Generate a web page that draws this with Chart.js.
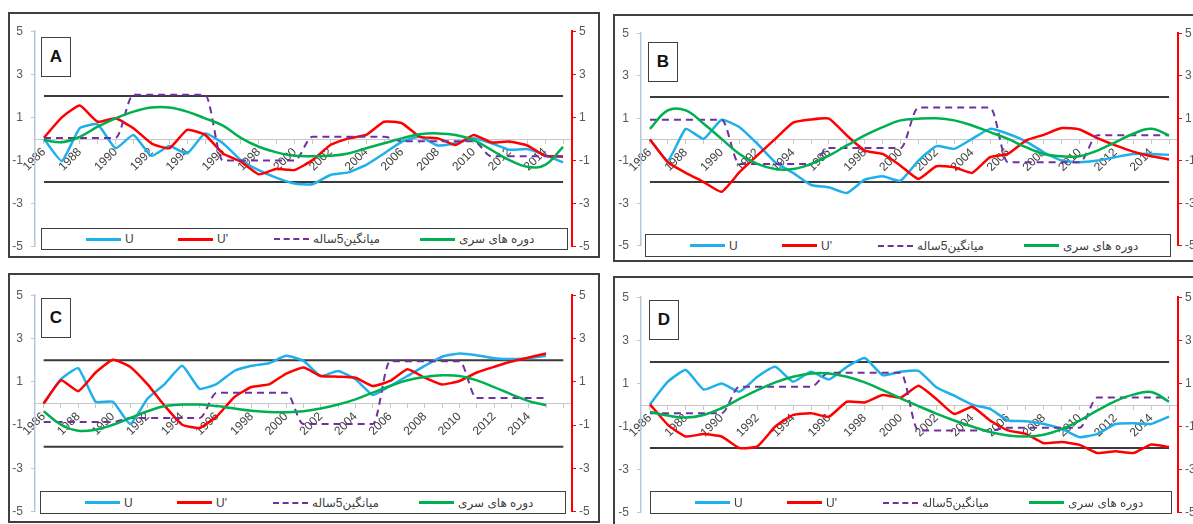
<!DOCTYPE html>
<html>
<head>
<meta charset="utf-8">
<script src="https://cdn.jsdelivr.net/npm/chart.js@4.4.1/dist/chart.umd.min.js"></script>
<style>
  body { margin: 0; width: 1193px; height: 524px; overflow: hidden; background: #fff; position: relative;
         font-family: "Liberation Sans", "DejaVu Sans", sans-serif; }
  .panel { position: absolute; border: 2px solid #404040; box-sizing: border-box; }
  canvas { position: absolute; }
  .tag { position: absolute; width: 30px; height: 40px; border: 1.5px solid #404040; box-sizing: border-box;
         background: #fff; font-weight: bold; font-size: 17px; text-align: center; line-height: 37px; color: #111; }
  .legend { position: absolute; border: 1.5px solid #404040; box-sizing: border-box; background: #fff; }
  .item { position: absolute; top: 0; bottom: 0; display: flex; align-items: center; font-size: 12px;
          color: #404040; white-space: nowrap; }
  .swatch { width: 35px; height: 0; border-top: 3px solid; margin-right: 4px; }
</style>
</head>
<body>

<div class="panel" style="left:8px;top:12px;width:592px;height:246px"></div>
<div class="panel" style="left:613px;top:14px;width:590px;height:248px"></div>
<div class="panel" style="left:8px;top:273px;width:592px;height:250px"></div>
<div class="panel" style="left:613px;top:276px;width:590px;height:250px"></div>

<canvas id="chartA" width="591" height="246" style="left:7px;top:16px"></canvas>
<canvas id="chartB" width="591" height="243" style="left:613px;top:18px"></canvas>
<canvas id="chartC" width="591" height="247" style="left:7px;top:280px"></canvas>
<canvas id="chartD" width="591" height="246" style="left:613px;top:282px"></canvas>

<div class="tag" style="left:41px;top:37px">A</div>
<div class="tag" style="left:648px;top:42px">B</div>
<div class="tag" style="left:41px;top:298px">C</div>
<div class="tag" style="left:649px;top:300px">D</div>

<div class="legend" id="legA" style="left:41px;top:228px;width:527px;height:22px"></div>
<div class="legend" id="legB" style="left:645px;top:234px;width:526px;height:23px"></div>
<div class="legend" id="legC" style="left:40px;top:491px;width:526px;height:23px"></div>
<div class="legend" id="legD" style="left:650px;top:491px;width:522px;height:23px"></div>

<script>
// years on the category axis
const years = ['1986', '1987', '1988', '1989', '1990', '1991', '1992', '1993', '1994', '1995',
  '1996', '1997', '1998', '1999', '2000', '2001', '2002', '2003', '2004', '2005',
  '2006', '2007', '2008', '2009', '2010', '2011', '2012', '2013', '2014', '2015'];
// panel C has one empty category at the end
const yearsC = ['1986', '1987', '1988', '1989', '1990', '1991', '1992', '1993', '1994', '1995',
  '1996', '1997', '1998', '1999', '2000', '2001', '2002', '2003', '2004', '2005',
  '2006', '2007', '2008', '2009', '2010', '2011', '2012', '2013', '2014', '2015', ''];
const yTicks = [-5, -3, -1, 1, 3, 5];

const seriesNames = ['U', "U'", 'میانگین5ساله', 'دوره های سری'];
const seriesColors = ['#1fb0ec', '#ff0000', '#7030a0', '#00b050'];

// +2 / -2 reference lines
const upper30 = [2, 2, 2, 2, 2, 2, 2, 2, 2, 2, 2, 2, 2, 2, 2, 2, 2, 2, 2, 2, 2, 2, 2, 2, 2, 2, 2, 2, 2, 2];
const lower30 = [-2, -2, -2, -2, -2, -2, -2, -2, -2, -2, -2, -2, -2, -2, -2, -2, -2, -2, -2, -2, -2, -2, -2, -2, -2, -2, -2, -2, -2, -2];
const upper31 = [2, 2, 2, 2, 2, 2, 2, 2, 2, 2, 2, 2, 2, 2, 2, 2, 2, 2, 2, 2, 2, 2, 2, 2, 2, 2, 2, 2, 2, 2, 2];
const lower31 = [-2, -2, -2, -2, -2, -2, -2, -2, -2, -2, -2, -2, -2, -2, -2, -2, -2, -2, -2, -2, -2, -2, -2, -2, -2, -2, -2, -2, -2, -2, -2];

// Panel A
const aU = [0, -1.02, 0.5, 0.68, -0.43, 0.19, -0.78, -0.33, -0.67, 0.26, -0.2, -0.98, -1.44, -1.8, -2.06,
  -2.1, -1.67, -1.55, -1.2, -0.67, -0.12, 0.1, -0.3, -0.2, 0.03, -0.2, -0.5, -0.47, -0.75, -1.08];
const aU2 = [0.06, 1.0, 1.55, 0.8, 0.96, 0.5, -0.2, -0.43, 0.42, 0.19, -0.67, -1.05, -1.64, -1.38, -1.44,
  -0.98, -0.28, 0.03, 0.19, 0.8, 0.73, 0.1, 0.03, -0.28, 0.19, -0.16, -0.12, -0.3, -0.78, -0.82];
const aMean = [0.05, 0.05, 0.05, 0.05, 0.05, 2.05, 2.05, 2.05, 2.05, 2.05, -1.0, -1.0, -1.0, -1.0, -1.0,
  0.1, 0.1, 0.1, 0.1, 0.1, -0.1, -0.1, -0.1, -0.1, -0.1, -0.8, -0.8, -0.8, -0.8, -0.8];
const aCycle = [-0.05, -0.15, 0.1, 0.57, 0.96, 1.27, 1.46, 1.46, 1.27, 0.96, 0.62, 0.05, -0.36, -0.62, -0.78,
  -0.8, -0.78, -0.67, -0.43, -0.2, 0.03, 0.22, 0.26, 0.19, -0.05, -0.51, -0.98, -1.29, -1.2, -0.36];

// Panel B
const bU = [0, -0.99, 0.5, 0.03, 0.93, 0.58, -0.2, -1.07, -1.57, -2.14, -2.25, -2.52, -1.89, -1.73, -1.94,
  -0.99, -0.31, -0.44, 0.03, 0.5, 0.27, -0.09, -0.6, -0.99, -1.07, -0.99, -0.83, -0.68, -0.68, -0.72];
const bU2 = [0, -1.07, -1.57, -2.0, -2.46, -1.54, -0.75, 0.03, 0.79, 0.94, 0.98, 0.19, -0.52, -0.68, -1.23,
  -1.86, -1.26, -1.31, -1.57, -0.83, -0.68, -0.05, 0.22, 0.54, 0.47, 0.06, -0.28, -0.57, -0.79, -0.94];
const bMean = [0.93, 0.93, 0.93, 0.93, 0.93, -1.15, -1.15, -1.15, -1.15, -1.15, -0.4, -0.4, -0.4, -0.4, -0.4,
  1.5, 1.5, 1.5, 1.5, 1.5, -1.07, -1.07, -1.07, -1.07, -1.07, 0.2, 0.2, 0.2, 0.2, 0.2];
const bCycle = [0.5, 1.37, 1.37, 0.74, 0.03, -0.68, -1.15, -1.39, -1.39, -1.15, -0.76, -0.28, 0.19, 0.58, 0.9,
  0.98, 1.0, 0.9, 0.66, 0.35, 0.03, -0.36, -0.68, -0.79, -0.79, -0.52, -0.13, 0.27, 0.5, 0.19];

// Panel C
const cU = [0, 1.12, 1.63, 0.08, 0.08, -0.95, 0.23, 0.91, 1.74, 0.68, 0.91, 1.5, 1.74, 1.86, 2.2,
  1.97, 1.27, 1.5, 1.12, 0.39, 0.81, 1.27, 1.74, 2.16, 2.31, 2.23, 2.09, 2.05, 2.09, 2.2];
const cU2 = [0, 1.07, 0.57, 1.43, 2.02, 1.69, 0.88, -0.12, -0.98, -1.13, -0.59, 0.29, 0.76, 0.88, 1.38,
  1.66, 1.27, 1.24, 1.19, 0.81, 1.04, 1.58, 1.19, 0.88, 1.04, 1.43, 1.69, 1.94, 2.12, 2.31];
const cMean = [-0.85, -0.85, -0.85, -0.85, -0.85, -0.67, -0.67, -0.67, -0.67, -0.67, 0.5, 0.5, 0.5, 0.5, 0.5,
  -0.95, -0.95, -0.95, -0.95, -0.95, 1.95, 1.95, 1.95, 1.95, 1.95, 0.25, 0.25, 0.25, 0.25, 0.25];
const cCycle = [-0.36, -0.98, -1.26, -1.21, -0.98, -0.67, -0.36, -0.12, -0.05, -0.05, -0.12, -0.23, -0.33, -0.39, -0.4,
  -0.36, -0.23, -0.05, 0.19, 0.5, 0.81, 1.07, 1.22, 1.3, 1.27, 1.07, 0.76, 0.42, 0.11, -0.08];

// Panel D
const dU = [0.03, 1.08, 1.62, 0.72, 1.0, 0.62, 1.31, 1.77, 1.08, 1.54, 1.18, 1.77, 2.18, 1.38, 1.54,
  1.58, 0.82, 0.43, 0.02, -0.18, -0.72, -0.75, -0.88, -1.1, -1.49, -1.34, -0.88, -0.85, -0.88, -0.54];
const dU2 = [0.03, -0.92, -1.46, -1.35, -1.46, -2.0, -1.92, -1.0, -0.46, -0.38, -0.54, 0.15, 0.12, 0.46, 0.34,
  0.89, 0.28, -0.42, -0.08, -0.72, -1.18, -1.34, -1.77, -1.72, -1.85, -2.23, -2.14, -2.23, -1.83, -1.95];
const dMean = [-0.38, -0.38, -0.38, -0.38, -0.38, 0.85, 0.85, 0.85, 0.85, 0.85, 1.5, 1.5, 1.5, 1.5, 1.5,
  -1.18, -1.18, -1.18, -1.18, -1.18, -1.05, -1.05, -1.05, -1.05, -1.05, 0.35, 0.35, 0.35, 0.35, 0.35];
const dCycle = [-0.31, -0.49, -0.58, -0.46, -0.15, 0.28, 0.69, 1.05, 1.31, 1.46, 1.46, 1.31, 1.05, 0.69, 0.31,
  -0.05, -0.4, -0.72, -1.0, -1.25, -1.41, -1.46, -1.38, -1.12, -0.72, -0.25, 0.18, 0.48, 0.6, 0.15];

const tickFont = { family: 'Liberation Sans', size: 12 };

function drawPanel(id, labels, u, u2, mean, cycle, upper, lower) {
  new Chart(document.getElementById(id), {
    type: 'line',
    data: {
      labels: labels,
      datasets: [
        { label: seriesNames[0], data: u, borderColor: seriesColors[0], borderWidth: 2.5, tension: 0.15, order: 4 },
        { label: seriesNames[1], data: u2, borderColor: seriesColors[1], borderWidth: 2.5, tension: 0.15, order: 3 },
        { label: seriesNames[2], data: mean, borderColor: seriesColors[2], borderWidth: 2, borderDash: [7, 5],
          cubicInterpolationMode: 'monotone', order: 2 },
        { label: seriesNames[3], data: cycle, borderColor: seriesColors[3], borderWidth: 2.5, tension: 0.4, order: 1 },
        { label: '+2', data: upper, borderColor: '#3a3a3a', borderWidth: 2, order: 5 },
        { label: '-2', data: lower, borderColor: '#3a3a3a', borderWidth: 2, order: 5 }
      ]
    },
    options: {
      responsive: false,
      animation: false,
      elements: { point: { radius: 0 } },
      layout: { padding: 0 },
      plugins: { legend: { display: false }, tooltip: { enabled: false } },
      scales: {
        x: {
          offset: true,
          position: { y: 0 },
          grid: { drawOnChartArea: false, tickLength: 4, color: '#c8c8c8' },
          border: { color: '#c8c8c8', width: 1 },
          ticks: {
            autoSkip: false, minRotation: 45, maxRotation: 45, padding: 2,
            color: '#404040', font: { family: 'Liberation Sans', size: 12 },
            callback: (v, i) => (i % 2 === 0 ? labels[i] : '')
          }
        },
        y: {
          position: 'left', min: -5, max: 5,
          afterBuildTicks: s => { s.ticks = yTicks.map(v => ({ value: v })); },
          afterFit: s => { s.width = 28; },
          grid: { drawOnChartArea: false, tickLength: 4, color: '#b8c8dc' },
          border: { color: '#b8c8dc', width: 1.5 },
          ticks: { color: '#595959', font: tickFont, padding: 8 }
        },
        y2: {
          position: 'right', min: -5, max: 5,
          afterBuildTicks: s => { s.ticks = yTicks.map(v => ({ value: v })); },
          afterFit: s => { s.width = 26; },
          grid: { drawOnChartArea: false, tickLength: 4, color: '#ff0000' },
          border: { color: '#ff0000', width: 2 },
          ticks: { color: '#595959', font: tickFont, padding: 3 }
        }
      }
    }
  });
}

function drawLegend(id) {
  const box = document.getElementById(id);
  const offsets = [44, 136, 232, 378];
  seriesNames.forEach((name, i) => {
    const item = document.createElement('div');
    item.className = 'item';
    item.style.left = offsets[i] + 'px';
    const sw = document.createElement('span');
    sw.className = 'swatch';
    sw.style.borderTopColor = seriesColors[i];
    if (i === 2) { sw.style.borderTopStyle = 'dashed'; sw.style.borderTopWidth = '2px'; }
    const txt = document.createElement('span');
    txt.textContent = name;
    item.appendChild(sw);
    item.appendChild(txt);
    box.appendChild(item);
  });
}

drawPanel('chartA', years, aU, aU2, aMean, aCycle, upper30, lower30);
drawPanel('chartB', years, bU, bU2, bMean, bCycle, upper30, lower30);
drawPanel('chartC', yearsC, cU, cU2, cMean, cCycle, upper31, lower31);
drawPanel('chartD', years, dU, dU2, dMean, dCycle, upper30, lower30);

['legA', 'legB', 'legC', 'legD'].forEach(drawLegend);
</script>
</body>
</html>
